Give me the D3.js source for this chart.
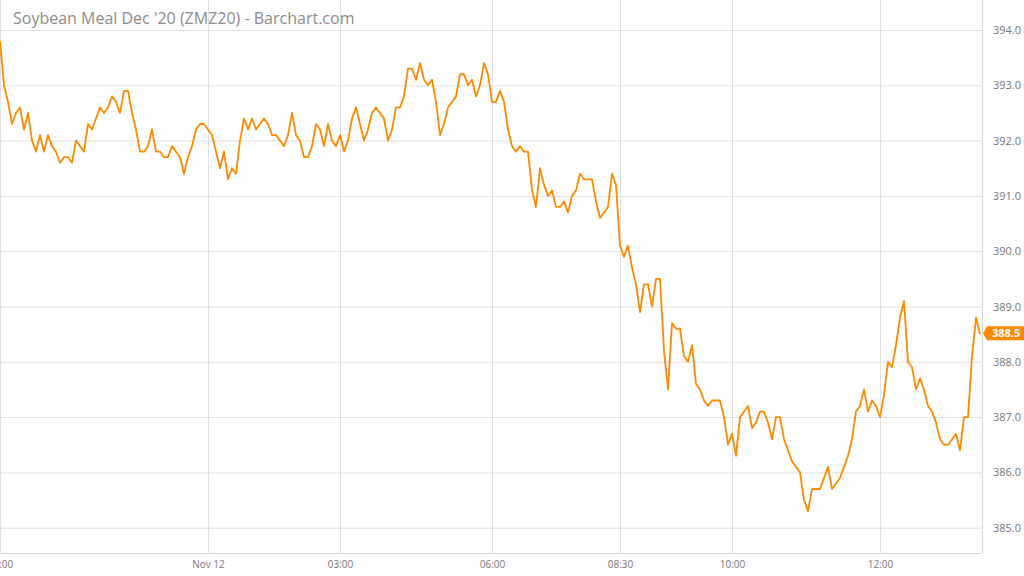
<!DOCTYPE html>
<html>
<head>
<meta charset="utf-8">
<script src="https://cdn.jsdelivr.net/npm/d3@7"></script>
<style>
  html, body { margin: 0; padding: 0; background: #fff; }
  svg { display: block; font-family: "Open Sans", "Noto Sans", sans-serif; }
</style>
</head>
<body>
<svg id="chart" width="1024" height="576"></svg>
<script>
const title = "Soybean Meal Dec '20 (ZMZ20) - Barchart.com";

// closing prices, one per bar (evenly spaced bar index)
const prices = [
  393.8, 393.0, 392.7, 392.3, 392.5, 392.6, 392.2, 392.5, 392.0, 391.8,
  392.1, 391.8, 392.1, 391.9, 391.8, 391.6, 391.7, 391.7, 391.6, 392.0,
  391.9, 391.8, 392.3, 392.2, 392.4, 392.6, 392.5, 392.6, 392.8, 392.7,
  392.5, 392.9, 392.9, 392.5, 392.2, 391.8, 391.8, 391.9, 392.2, 391.8,
  391.8, 391.7, 391.7, 391.9, 391.8, 391.7, 391.4, 391.7, 391.9, 392.2,
  392.3, 392.3, 392.2, 392.1, 391.8, 391.5, 391.8, 391.3, 391.5, 391.4,
  392.0, 392.4, 392.2, 392.4, 392.2, 392.3, 392.4, 392.3, 392.1, 392.1,
  392.0, 391.9, 392.1, 392.5, 392.1, 392.0, 391.7, 391.7, 391.9, 392.3,
  392.2, 391.9, 392.3, 392.0, 391.9, 392.1, 391.8, 392.0, 392.4, 392.6,
  392.3, 392.0, 392.2, 392.5, 392.6, 392.5, 392.4, 392.0, 392.2, 392.6,
  392.6, 392.8, 393.3, 393.3, 393.1, 393.4, 393.1, 393.0, 393.1, 392.7,
  392.1, 392.3, 392.6, 392.7, 392.8, 393.2, 393.2, 393.0, 393.1, 392.8,
  393.0, 393.4, 393.2, 392.7, 392.7, 392.9, 392.7, 392.2, 391.9, 391.8,
  391.9, 391.8, 391.8, 391.1, 390.8, 391.5, 391.2, 391.0, 391.1, 390.8,
  390.8, 390.9, 390.7, 391.0, 391.1, 391.4, 391.3, 391.3, 391.3, 390.9,
  390.6, 390.7, 390.8, 391.4, 391.2, 390.1, 389.9, 390.1, 389.7, 389.4,
  388.9, 389.4, 389.4, 389.0, 389.5, 389.5, 388.2, 387.5, 388.7, 388.6,
  388.6, 388.1, 388.0, 388.3, 387.6, 387.5, 387.3, 387.2, 387.3, 387.3,
  387.3, 387.0, 386.5, 386.7, 386.3, 387.0, 387.1, 387.2, 386.8, 386.9,
  387.1, 387.1, 386.9, 386.6, 387.0, 387.0, 386.6, 386.4, 386.2, 386.1,
  386.0, 385.5, 385.3, 385.7, 385.7, 385.7, 385.9, 386.1, 385.7, 385.8,
  385.9, 386.1, 386.3, 386.6, 387.1, 387.2, 387.5, 387.1, 387.3, 387.2,
  387.0, 387.4, 388.0, 387.9, 388.3, 388.8, 389.1, 388.0, 387.9, 387.5,
  387.7, 387.5, 387.2, 387.1, 386.9, 386.6, 386.5, 386.5, 386.6, 386.7,
  386.4, 387.0, 387.0, 388.1, 388.8, 388.5
];

const yTicks = [385, 386, 387, 388, 389, 390, 391, 392, 393, 394];
const xTickBars = [0, 52, 85, 123, 155, 183, 220];
const xTickLabels = ["19:00", "Nov 12", "03:00", "06:00", "08:30", "10:00", "12:00"];
const lastPrice = 388.5;

const W = 1024, H = 576;
const plotRight = 982, plotBottom = 553;
const lineColor = "#ff8a00";
const gridColor = "#e1e1e1";

const svg = d3.select("#chart");

const x = d3.scaleLinear().domain([0, prices.length - 1]).range([0, 980]);
const y = d3.scaleLinear().domain([385, 394]).range([527.7, 30]);

// vertical grid + x labels
const xAxis = d3.axisBottom(x)
  .tickValues(xTickBars)
  .tickFormat((d, i) => xTickLabels[i])
  .tickSizeInner(-plotBottom)
  .tickSizeOuter(0)
  .tickPadding(8);
const gx = svg.append("g").attr("transform", `translate(0,${plotBottom})`).call(xAxis);
gx.select(".domain").remove();
gx.selectAll(".tick line").attr("stroke", gridColor);
gx.selectAll(".tick text").attr("fill", "#777").attr("font-size", 10)
  .attr("font-family", "'Open Sans', sans-serif");

// horizontal grid + y labels
const yAxis = d3.axisRight(y)
  .tickValues(yTicks)
  .tickFormat(d3.format(".1f"))
  .tickSizeInner(-plotRight)
  .tickSizeOuter(0)
  .tickPadding(11);
const gy = svg.append("g").attr("transform", `translate(${plotRight},0)`).call(yAxis);
gy.select(".domain").remove();
gy.selectAll(".tick line").attr("stroke", gridColor);
gy.selectAll(".tick text").attr("fill", "#777").attr("font-size", 11)
  .attr("font-family", "'Open Sans', sans-serif");

// frame: right border and bottom axis line
svg.append("line").attr("x1", plotRight + 0.5).attr("x2", plotRight + 0.5)
  .attr("y1", 0).attr("y2", plotBottom).attr("stroke", "#d6d6d6");
svg.append("line").attr("x1", 0).attr("x2", plotRight)
  .attr("y1", plotBottom + 0.5).attr("y2", plotBottom + 0.5).attr("stroke", "#d6d6d6");

// title
svg.append("text")
  .attr("x", 13).attr("y", 24)
  .attr("font-size", 16)
  .attr("fill", "#8c8c8c")
  .attr("font-family", "'Open Sans', sans-serif")
  .text(title);

// price line
const line = d3.line().x((d, i) => x(i)).y(d => y(d));
svg.append("path")
  .datum(prices)
  .attr("fill", "none")
  .attr("stroke", lineColor)
  .attr("stroke-width", 1.8)
  .attr("stroke-linejoin", "round")
  .attr("d", line);

// last price badge
const ly = y(lastPrice) - 1;
const badge = svg.append("g");
badge.append("path")
  .attr("d", `M${plotRight + 1},${ly} L${plotRight + 5},${ly - 7} L${W},${ly - 7} L${W},${ly + 7} L${plotRight + 5},${ly + 7} Z`)
  .attr("fill", lineColor);
badge.append("text")
  .attr("x", 992).attr("y", ly)
  .attr("dy", "0.36em")
  .attr("font-size", 11)
  .attr("font-weight", "bold")
  .attr("fill", "#fff")
  .attr("font-family", "'Open Sans', sans-serif")
  .text(d3.format(".1f")(lastPrice));
</script>
</body>
</html>
